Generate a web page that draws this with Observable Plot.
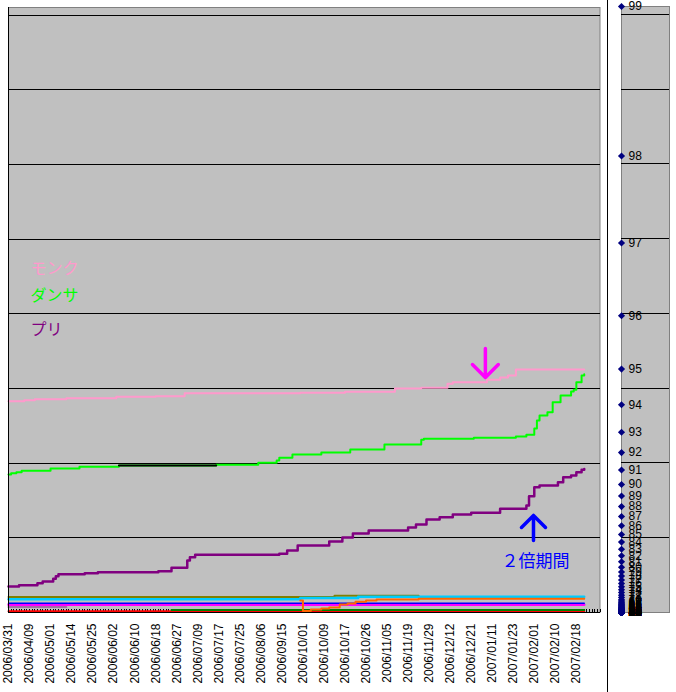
<!DOCTYPE html>
<html>
<head>
<meta charset="utf-8">
<script src="https://cdn.jsdelivr.net/npm/d3@7"></script>
<script src="https://cdn.jsdelivr.net/npm/@observablehq/plot@0.6"></script>
<style>
body { margin: 0; background: #fff; }
#wrap { display: flex; width: 676px; height: 692px; }
#main { width: 607px; }
#side { width: 68px; border-left: 1px solid #000; }
svg { display: block; }
</style>
</head>
<body>
<div id="wrap"><div id="main"></div><div id="side"></div></div>
<script>
// x = row of the log (one row per entry), a date label every 8 rows
const dateLabels = ["2006/03/31","2006/04/09","2006/05/01","2006/05/14","2006/05/25","2006/06/02","2006/06/10",
	"2006/06/18","2006/06/27","2006/07/09","2006/07/17","2006/07/25","2006/08/06","2006/09/15","2006/10/01",
	"2006/10/09","2006/10/17","2006/10/26","2006/11/05","2006/11/19","2006/11/29","2006/12/12","2006/12/21",
	"2007/01/11","2007/01/23","2007/02/01","2007/02/10","2007/02/18"]
const nRows = 226

// base exp needed for the next level, Lv1 -> Lv98
const expTable = [9,16,25,36,77,112,153,200,253,320,385,490,585,700,830,970,1120,1260,1420,1620,
	1860,1990,2240,2504,2950,3426,3934,4474,6889,7995,9174,10425,11748,13967,15775,17678,19677,21773,
	30543,34212,38065,42102,46323,53026,58419,64041,69892,75973,102468,115254,128692,142784,157528,
	178184,196300,215198,234879,255341,330188,365914,403224,442116,482590,536948,585191,635278,687211,
	740988,925400,1473746,1594058,1718928,1848355,1982340,2230113,2386162,2547417,2713878,3206160,
	3681024,4022472,4377024,4744680,5125440,5767272,6204000,6655464,7121664,7602600,9738720,11649960,
	13643520,18339300,23836800,35658000,48687000,58135000,99999998]

// total exp in millions, [row, value] where the value changes
const monk = [[0,141.5],[6,142.2],[10,142.9],[22,143.5],[41,144.5],[56,144.9],[67,146.9],[111,147.2],
	[128,147.9],[147,150.0],[157,150.5],[167,153.2],[169,154.3],[182,155.9],[187,157.4],[190,158.7],
	[193,162.8],[219,162.8]]
const dancer = [[0,92.4],[1,93.3],[3,94.0],[5,94.9],[16,96.5],[27,97.6],[42,98.5],[79,98.9],[95,100.3],
	[102,101.8],[103,103.6],[108,105.8],[119,107.2],[130,109.2],[143,112.5],[157,115.7],[158,116.3],
	[177,117.0],[193,117.9],[197,119.0],[200,123.2],[201,128.6],[202,131.9],[205,134.2],[207,140.9],
	[210,145.3],[214,148.0],[215,149.2],[216,154.3],[218,158.7],[219,159.5]]
const priest = [[0,17.4],[4,18.3],[11,19.6],[13,20.8],[17,22.6],[18,24.3],[19,25.7],[29,26.3],[34,27.0],
	[57,27.7],[62,29.9],[68,34.8],[69,37.0],[71,38.6],[103,39.3],[106,41.5],[110,44.9],[122,47.6],
	[127,50.2],[131,52.9],[137,54.9],[152,56.9],[155,58.9],[159,62.3],[164,63.8],[169,65.6],[176,66.8],
	[187,69.5],[197,71.7],[198,77.9],[200,83.9],[202,85.1],[209,87.3],[211,90.6],[214,91.8],[216,94.0],
	[218,95.6],[219,96.1]]
const blackSeg = [[42,98.5],[79,98.5]]
const olive = [[0,10.3],[124,11.3],[156,11.3]]
const cyan = [[0,8.8],[111,9.7],[133,10.6],[219,10.6]]
const orange = [[111,8.0],[112,1.0],[115,2.0],[119,2.7],[122,3.3],[126,5.4],[129,6.0],[132,7.2],
	[136,8.0],[140,8.7],[156,9.2],[219,9.2]]
const blue = [[0,6.2],[219,6.2]]
const magenta = [[0,5.2],[219,5.2]]
const lavender = [[0,3.7],[22,3.7]]
const darkGreen = [[62,1.7],[219,1.7]]
const red = [[0,0.9],[219,0.9]]

const seriesNames = ["モンク", "ダンサ", "プリ"]
const seriesColors = ["#ff99cc", "#00ff00", "#800080"]
const legendPos = [[8.4, 230.4], [8.4, 212.3], [8.4, 189.2]]

const noteText = "２倍期間"
const notePos = [200.5, 34.2]
const downTip = [181.4, 157.4]
const upTip = [199.7, 65.0]

const levels = d3.range(1, 100)
const levelExp = [0, ...d3.cumsum(expTable)].map(v => v / 1e6)
const maxExp = levelExp[levelExp.length - 1]
const grid = d3.range(50, 401, 50)
const labelRows = dateLabels.map((d, i) => i * 8)

const lines = [
	{data: red, color: "#ff0000", w: 2},
	{data: darkGreen, color: "#008000", w: 2},
	{data: lavender, color: "#a070a8", w: 2},
	{data: magenta, color: "#ff00ff", w: 2.5},
	{data: blue, color: "#0000ff", w: 1.5},
	{data: olive, color: "#808000", w: 2},
	{data: cyan, color: "#00ccff", w: 2.5},
	{data: orange, color: "#ff6600", w: 2},
	{data: priest, color: seriesColors[2], w: 2.5},
	{data: dancer, color: seriesColors[1], w: 2},
	{data: blackSeg, color: "#000000", w: 2},
	{data: monk, color: seriesColors[0], w: 2},
]

let mainChart = Plot.plot({
	width: 607,
	height: 692,
	marginLeft: 8,
	marginRight: 7.5,
	marginTop: 7,
	marginBottom: 80,
	x: {domain: [0, nRows - 1]},
	y: {domain: [0, maxExp], axis: null},
	style: {fontFamily: "Liberation Sans", background: "white"},
	marks: [
		Plot.frame({fill: "#c0c0c0", stroke: "#808080"}),
		Plot.ruleY(grid, {stroke: "black", shapeRendering: "crispEdges"}),
		Plot.ruleX(d3.range(nRows), {y1: 0, y2: 2, stroke: "black", shapeRendering: "crispEdges"}),
		...lines.map(s => Plot.line(s.data, {
			x: d => d[0], y: d => d[1], stroke: s.color, strokeWidth: s.w, curve: "step-after"
		})),
		Plot.ruleX([0], {stroke: "black", shapeRendering: "crispEdges"}),
		Plot.ruleY([0], {stroke: "black", shapeRendering: "crispEdges"}),
		Plot.axisX(labelRows, {
			tickFormat: d => dateLabels[d / 8],
			tickSize: 0,
			tickPadding: 11,
			tickRotate: -90,
			textAnchor: "end",
			lineAnchor: "middle",
			fontSize: 12,
			label: null,
		}),
		...seriesNames.map((name, i) => Plot.text([name], {
			x: () => legendPos[i][0], y: () => legendPos[i][1], text: d => d,
			fill: seriesColors[i], fontSize: 16, fontFamily: "Noto Sans CJK JP", textAnchor: "start",
		})),
		Plot.vector([downTip], {
			x: d => d[0], y: d => d[1], length: 29, rotate: 180, anchor: "end", r: 7.8,
			stroke: "#ff00ff", strokeWidth: 3.5,
		}),
		Plot.vector([upTip], {
			x: d => d[0], y: d => d[1], length: 25, rotate: 0, anchor: "end", r: 8.4,
			stroke: "#0000ff", strokeWidth: 3.5,
		}),
		Plot.text([noteText], {
			x: () => notePos[0], y: () => notePos[1], text: d => d,
			fill: "#0000ff", fontSize: 17, fontFamily: "Noto Sans CJK JP",
		}),
	],
})
d3.select('#main').append(() => mainChart)

// level markers on the same exp scale
let sideChart = Plot.plot({
	width: 68,
	height: 692,
	marginLeft: 13,
	marginRight: 7,
	marginTop: 6,
	marginBottom: 80,
	x: {domain: [0, 1], axis: null},
	y: {domain: [0, maxExp], axis: null},
	style: {fontFamily: "Liberation Sans", background: "white"},
	marks: [
		Plot.frame({fill: "#c0c0c0", stroke: "#808080"}),
		Plot.ruleY(grid, {stroke: "black", shapeRendering: "crispEdges"}),
		Plot.dot(levels, {x: () => 0, y: d => levelExp[d - 1], symbol: "diamond2", r: 3.2, fill: "#000080"}),
		Plot.text(levels, {
			x: () => 0, y: d => levelExp[d - 1], text: d => String(d),
			dx: 7, textAnchor: "start", fontSize: 12, fill: "black",
		}),
	],
})
d3.select('#side').append(() => sideChart)
</script>
</body>
</html>
